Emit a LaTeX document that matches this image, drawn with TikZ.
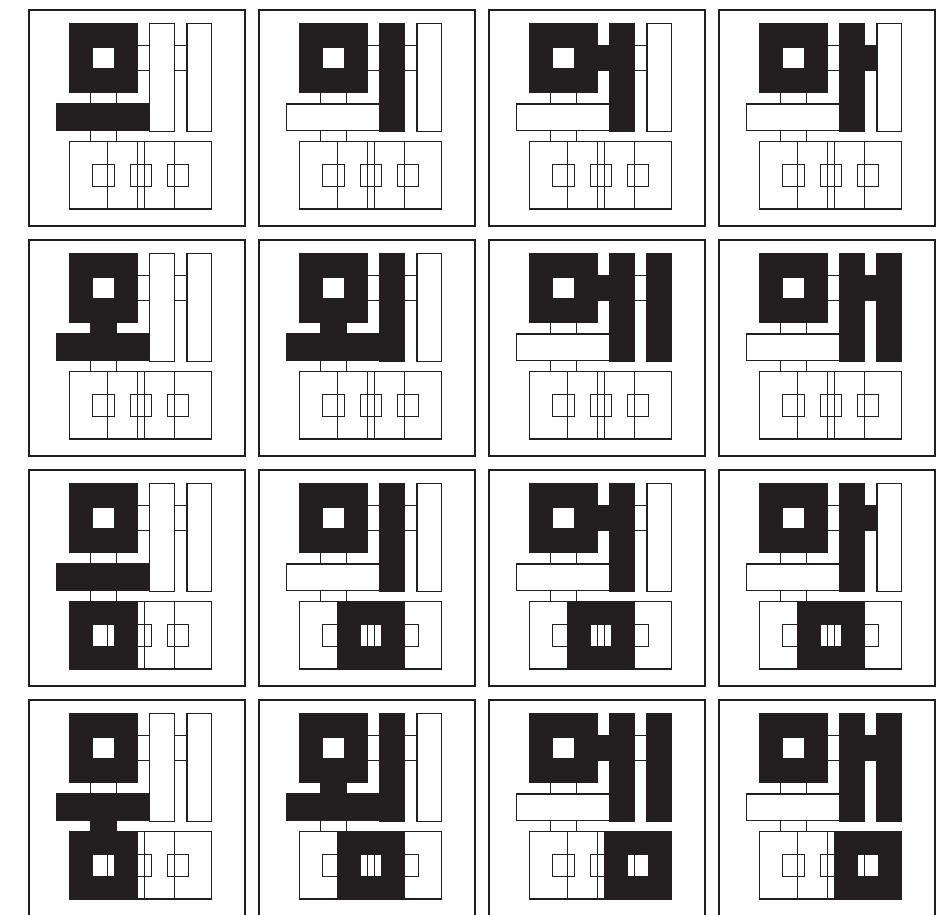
\documentclass[tikz,border=0pt]{standalone}
\usepackage{xcolor}
\usepackage{tikz}

\definecolor{ink}{HTML}{231F20}

%% outlines of every slot of one syllable block
\newcommand{\blocktemplate}{%
  \draw[panel] (0,0) rectangle (216,216);
  \draw[slot] (40.5,14) rectangle (108.5,82.5) (63.7,37.2) rectangle (85.3,58.8);
  \draw[slot] (120.7,13.3) rectangle (145.7,121.7);
  \draw[slot] (158,13.3) rectangle (182.7,121.7);
  \draw[slot] (108.5,35.7) rectangle (120.7,60.7);
  \draw[slot] (145.7,35.7) rectangle (158,60.7);
  \draw[slot] (27.3,94) rectangle (120.7,120.3);
  \draw[slot] (61.7,82.5) rectangle (87.3,94);
  \draw[slot] (61.7,120.3) rectangle (87.3,131.7);
  \draw[slot] (40.5,131.7) rectangle (108.5,199) (63.7,154.7) rectangle (85.3,176.3);
  \draw[slot] (78.3,131.7) rectangle (145.7,199) (101.2,154.7) rectangle (122.8,176.3);
  \draw[slot] (115.3,131.7) rectangle (182.7,199) (138.2,154.7) rectangle (159.8,176.3);
}

%% filled slots
\newcommand{\inkI}{\path[filled] (40.5,14) rectangle (108.5,82.5) (63.7,37.2) rectangle (85.3,58.8);}
\newcommand{\inkBa}{\path[filled] (120.7,13.3) rectangle (145.7,121.7);}
\newcommand{\inkBb}{\path[filled] (158,13.3) rectangle (182.7,121.7);}
\newcommand{\inkCL}{\path[filled] (108.5,35.7) rectangle (120.7,60.7);}
\newcommand{\inkCR}{\path[filled] (145.7,35.7) rectangle (158,60.7);}
\newcommand{\inkH}{\path[filled] (27.3,94) rectangle (120.7,120.3);}
\newcommand{\inkVa}{\path[filled] (61.7,82.5) rectangle (87.3,94);}
\newcommand{\inkVb}{\path[filled] (61.7,120.3) rectangle (87.3,131.7);}
\newcommand{\inkFa}{\path[filled] (40.5,131.7) rectangle (108.5,199) (63.7,154.7) rectangle (85.3,176.3);}
\newcommand{\inkFb}{\path[filled] (78.3,131.7) rectangle (145.7,199) (101.2,154.7) rectangle (122.8,176.3);}
\newcommand{\inkFc}{\path[filled] (115.3,131.7) rectangle (182.7,199) (138.2,154.7) rectangle (159.8,176.3);}

\begin{document}
\begin{tikzpicture}[
  x=0.5pt, y=-0.5pt,
  panel/.style={draw=ink, line width=0.75pt},
  slot/.style={draw=ink, line width=0.6pt},
  filled/.style={fill=ink, draw=ink, line width=0.6pt, even odd rule}
]
\useasboundingbox (0,0) rectangle (944,915);

%% ── Row 1 ────────────────────────────────────────────────────────────────────
\begin{scope}[shift={(29,10)}]  \blocktemplate \inkI \inkH \end{scope}
\begin{scope}[shift={(259,10)}] \blocktemplate \inkI \inkBa \end{scope}
\begin{scope}[shift={(489,10)}] \blocktemplate \inkI \inkCL \inkBa \end{scope}
\begin{scope}[shift={(719,10)}] \blocktemplate \inkI \inkBa \inkCR \end{scope}

%% ── Row 2 ────────────────────────────────────────────────────────────────────
\begin{scope}[shift={(29,240)}]  \blocktemplate \inkI \inkVa \inkH \end{scope}
\begin{scope}[shift={(259,240)}] \blocktemplate \inkI \inkVa \inkH \inkBa \end{scope}
\begin{scope}[shift={(489,240)}] \blocktemplate \inkI \inkCL \inkBa \inkBb \end{scope}
\begin{scope}[shift={(719,240)}] \blocktemplate \inkI \inkBa \inkCR \inkBb \end{scope}

%% ── Row 3 ────────────────────────────────────────────────────────────────────
\begin{scope}[shift={(29,470)}]  \blocktemplate \inkI \inkH \inkFa \end{scope}
\begin{scope}[shift={(259,470)}] \blocktemplate \inkI \inkBa \inkFb \end{scope}
\begin{scope}[shift={(489,470)}] \blocktemplate \inkI \inkCL \inkBa \inkFb \end{scope}
\begin{scope}[shift={(719,470)}] \blocktemplate \inkI \inkBa \inkCR \inkFb \end{scope}

%% ── Row 4 ────────────────────────────────────────────────────────────────────
\begin{scope}[shift={(29,700)}]  \blocktemplate \inkI \inkH \inkVb \inkFa \end{scope}
\begin{scope}[shift={(259,700)}] \blocktemplate \inkI \inkVa \inkH \inkBa \inkFb \end{scope}
\begin{scope}[shift={(489,700)}] \blocktemplate \inkI \inkCL \inkBa \inkBb \inkFc \end{scope}
\begin{scope}[shift={(719,700)}] \blocktemplate \inkI \inkBa \inkCR \inkBb \inkFc \end{scope}

\end{tikzpicture}
\end{document}
